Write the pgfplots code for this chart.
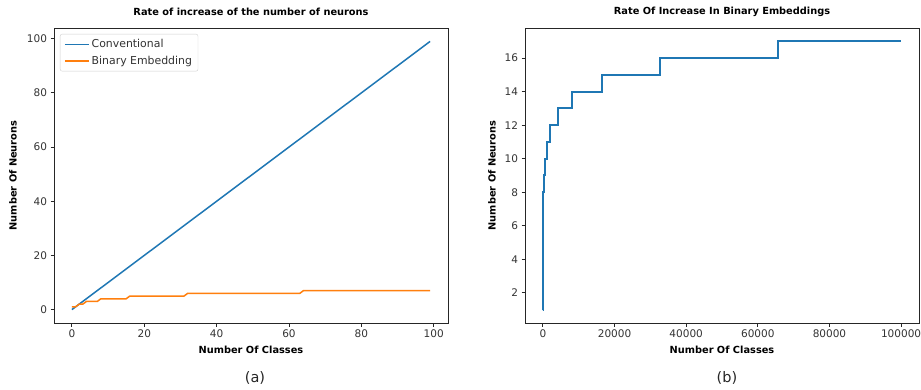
\documentclass[border=0pt]{standalone}
\usepackage{pgfplots}
\pgfplotsset{compat=1.18}
\usepackage{fontspec}
\setmainfont{DejaVu Sans}
\definecolor{mplblue}{HTML}{1F77B4}
\definecolor{mplorange}{HTML}{FF7F0E}
\pgfplotsset{
  mystyle/.style={
    scale only axis, width=394pt, height=295pt,
    anchor=south west,
    axis line style={black!85, line width=0.9pt},
    tick align=outside, tick style={black!85, line width=0.9pt}, major tick length=3.5pt,
    xtick pos=bottom, ytick pos=left,
    tick label style={font=\fontsize{10.5}{12}\selectfont, color=black!80},
    /pgf/number format/assume math mode=true,
    /pgf/number format/fixed, /pgf/number format/1000 sep={},
    scaled x ticks=false, scaled y ticks=false,
    label style={font=\bfseries\fontsize{9.8}{11}\selectfont},
    title style={font=\bfseries\fontsize{9.8}{11}\selectfont, at={(axis description cs:0.5,1.034)}, anchor=center},
    xlabel style={at={(axis description cs:0.5,-0.0915)}, anchor=center},
  }
}
\begin{document}
\begin{tikzpicture}
\useasboundingbox (0,0) rectangle (921pt,389pt);
\begin{axis}[mystyle, at={(54pt,66pt)},
  xmin=-4.95, xmax=103.95, ymin=-4.95, ymax=103.95,
  xtick={0,20,40,60,80,100}, ytick={0,20,40,60,80,100},
  title={Rate of increase of the number of neurons},
  xlabel={Number Of Classes}, ylabel={Number Of Neurons},
  ylabel style={at={(axis description cs:-0.104,0.5)}, anchor=center},
  legend style={at={(axis description cs:0.0152,0.98)}, anchor=north west,
    draw=black!18, rounded corners=2pt, font=\fontsize{10.9}{12}\selectfont,
    text=black!80, inner xsep=4pt, inner ysep=3.5pt, row sep=2.5pt},
  legend cell align=left,
  legend image code/.code={\draw[#1] (0pt,0pt) -- (24pt,0pt);},
]
\addplot[mplblue, line width=1.5pt] coordinates {(0,0) (99,99)};
\addlegendentry{Conventional}
\addplot[mplorange, line width=1.5pt] coordinates {
(0,1) (1,1) (2,2) (3,2) (4,3) (7,3) (8,4) (15,4) (16,5) (31,5) (32,6) (63,6) (64,7) (99,7)};
\addlegendentry{Binary Embedding}
\end{axis}
\begin{axis}[mystyle, at={(525pt,66pt)},
  xmin=-4999.95, xmax=104999.95, ymin=0.2, ymax=17.8,
  xtick={0,20000,40000,60000,80000,100000}, ytick={2,4,6,8,10,12,14,16},
  title={Rate Of Increase In Binary Embeddings},
  xlabel={Number Of Classes}, ylabel={Number Of Neurons},
  ylabel style={at={(axis description cs:-0.0838,0.5)}, anchor=center},
]
\addplot[mplblue, line width=2pt, const plot] coordinates {
(1,1) (2,2) (4,3) (8,4) (16,5) (32,6) (64,7) (128,8) (256,9) (512,10) (1024,11)
(2048,12) (4096,13) (8192,14) (16384,15) (32768,16) (65536,17) (100000,17)};
\end{axis}
\node[font=\fontsize{14.5}{16}\selectfont, text=black!85] at (255pt,11pt) {(a)};
\node[font=\fontsize{14.5}{16}\selectfont, text=black!85] at (727pt,11pt) {(b)};
\end{tikzpicture}
\end{document}
